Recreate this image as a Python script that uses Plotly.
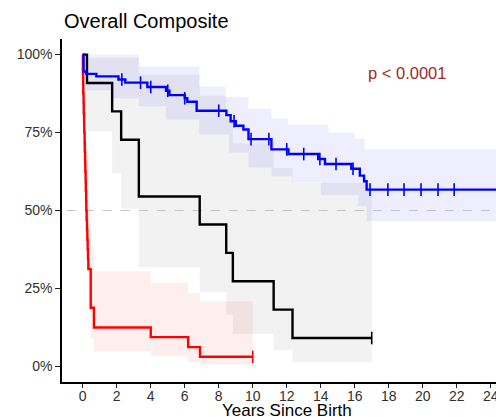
import plotly.graph_objects as go

# ---------------- data ----------------
# Blue group: Kaplan-Meier steps (years, survival %)
blue_t = [0, 0.05, 0.2, 0.8, 2.1, 2.5, 3.8, 4.9, 5.1, 6.0, 6.15, 6.7, 8.45, 8.7, 9.0,
          9.45, 9.75, 11.1, 12.1, 13.85, 14.25, 15.8, 16.3, 16.55, 16.7, 25]
blue_s = [100, 94.6, 93.8, 93.0, 92.0, 91.0, 89.6, 88.4, 87.0, 86.0, 84.9, 82.0, 80.6, 78.6, 77.2,
          76.0, 72.9, 69.6, 68.1, 66.5, 64.9, 63.4, 61.2, 59.4, 56.7, 56.7]
blue_censor_t = [2.3, 3.4, 4.0, 5.0, 6.0, 8.0, 8.9, 9.9, 10.95, 12.0, 13.0, 13.95, 14.9,
                 15.9, 16.9, 17.95, 18.9, 19.9, 20.9, 21.85]
blue_up_t = [0, 0.05, 0.3, 3.3, 6.85, 8.4, 9.75, 11.1, 12.1, 14.45, 16.0, 16.6, 25]
blue_up = [100, 100, 99.0, 96.2, 89.8, 86.4, 82.6, 79.5, 77.5, 75.0, 73.0, 69.6, 69.6]
blue_lo_t = [0, 0.05, 0.3, 1.75, 3.3, 4.9, 6.85, 8.6, 9.75, 11.1, 12.3, 14.0, 16.2, 16.7, 25]
blue_lo = [100, 88.5, 88.5, 86.0, 83.4, 79.2, 74.4, 68.6, 63.8, 61.0, 59.0, 55.0, 51.4, 46.6, 46.6]

# Black group
black_t = [0, 0.25, 1.73, 2.26, 3.3, 6.88, 8.44, 8.83, 11.23, 12.34, 17.0]
black_s = [100, 90.9, 81.8, 72.7, 54.5, 45.5, 36.4, 27.3, 18.2, 9.1, 9.1]
black_censor_t = [17.0]
black_up = [100, 100, 100, 100, 93.5, 86.8, 79.6, 71.5, 63.6, 58.9, 58.9]
black_lo = [100, 75.4, 62.0, 50.6, 31.8, 23.8, 16.6, 10.4, 5.2, 1.4, 1.4]

# Red group
red_t = [0, 0.01, 0.02, 0.03, 0.05, 0.06, 0.08, 0.09, 0.11, 0.12, 0.14, 0.15, 0.17, 0.18,
         0.20, 0.21, 0.23, 0.25, 0.27, 0.29, 0.31, 0.33, 0.47, 0.66, 4.0, 6.2, 6.9, 10.0]
red_s = [100, 93.8, 90.6, 87.5, 84.4, 81.2, 78.1, 75.0, 71.9, 68.8, 65.6, 62.5, 59.4, 56.2,
         53.1, 50.0, 46.9, 43.8, 40.6, 37.5, 34.4, 31.2, 18.8, 12.5, 9.4, 6.2, 3.1, 3.1]
red_censor_t = [10.0]
red_band_t = [0, 0.01, 0.1, 0.2, 0.33, 0.47, 0.66, 4.0, 6.2, 6.9, 10.0]
red_up = [100, 99, 88, 72, 52, 38.6, 30.5, 26.8, 23.4, 20.9, 20.9]
red_lo = [100, 83, 66, 47, 18.7, 9.1, 4.9, 3.3, 1.4, 0.6, 0.6]

x_ticks = list(range(0, 25, 2))
y_ticks = [0, 25, 50, 75, 100]
title_text = "Overall Composite"
x_title = "Years Since Birth"
p_text = "p < 0.0001"

# ---------------- helpers ----------------
def step_lookup(ts, ss, t):
    val = ss[0]
    for ti, si in zip(ts, ss):
        if ti <= t:
            val = si
    return val

FONT = "Liberation Sans, Arial, sans-serif"

fig = go.Figure()

def add_band(xl, yl, xu, yu, color):
    fig.add_trace(go.Scatter(x=xl, y=yl, mode="lines", line=dict(width=0, shape="hv"),
                             hoverinfo="skip", showlegend=False))
    fig.add_trace(go.Scatter(x=xu, y=yu, mode="lines", line=dict(width=0, shape="hv"),
                             fill="tonexty", fillcolor=color, hoverinfo="skip", showlegend=False))

add_band(black_t, black_lo, black_t, black_up, "rgba(0,0,0,0.05)")
add_band(blue_lo_t, blue_lo, blue_up_t, blue_up, "rgba(0,0,255,0.065)")
add_band(red_band_t, red_lo, red_band_t, red_up, "rgba(255,0,0,0.065)")

# 50% reference line
fig.add_trace(go.Scatter(x=[-2, 26], y=[50, 50], mode="lines",
                         line=dict(color="#c4c4c4", width=1.1, dash="dash"),
                         hoverinfo="skip", showlegend=False))

def add_curve(ts, ss, cts, color):
    fig.add_trace(go.Scatter(x=ts, y=ss, mode="lines", line=dict(color=color, width=2.4, shape="hv"),
                             showlegend=False))
    fig.add_trace(go.Scatter(x=cts, y=[step_lookup(ts, ss, c) for c in cts], mode="markers",
                             marker=dict(symbol="line-ns-open", size=9, color=color,
                                         line=dict(color=color, width=1.6)),
                             showlegend=False))

add_curve(black_t, black_s, black_censor_t, "#000000")
add_curve(red_t, red_s, red_censor_t, "#ff0000")
add_curve(blue_t, blue_s, blue_censor_t, "#0000ff")

fig.add_annotation(x=0, xref="paper", y=1.052, yref="paper", text=title_text, showarrow=False,
                   xanchor="left", yanchor="middle", font=dict(family=FONT, size=20, color="#000000"))
fig.add_annotation(x=12, xref="x", y=-0.084, yref="paper", text=x_title, showarrow=False,
                   xanchor="center", yanchor="middle", font=dict(family=FONT, size=17, color="#000000"))
fig.add_annotation(x=19.1, xref="x", y=94.0, yref="y", text=p_text, showarrow=False,
                   xanchor="center", yanchor="middle", font=dict(family=FONT, size=16.5, color="#9e2a2b"))

fig.update_layout(
    width=496, height=417,
    margin=dict(l=62, r=0, t=39, b=35, autoexpand=False),
    paper_bgcolor="white", plot_bgcolor="white",
    showlegend=False,
    font=dict(family=FONT),
)
fig.update_xaxes(range=[-1.22, 24.31], tickvals=x_ticks, ticktext=[str(v) for v in x_ticks],
                 showgrid=False, zeroline=False, showline=True, linecolor="#000000", linewidth=1.5,
                 ticks="outside", ticklen=4, tickwidth=1.2, tickcolor="#222222", automargin=False,
                 ticklabelstandoff=-4,
                 tickfont=dict(family=FONT, size=14, color="#303030"), ticklabeloverflow="allow")
fig.update_yaxes(range=[-5, 105], tickvals=y_ticks, ticktext=[f"{v}%" for v in y_ticks],
                 showgrid=False, zeroline=False, showline=True, linecolor="#000000", linewidth=1.5,
                 ticks="outside", ticklen=5, tickwidth=1.2, tickcolor="#222222", automargin=False,
                 tickfont=dict(family=FONT, size=14, color="#303030"))

fig.write_html("out.html", config={"displayModeBar": False},
               post_script="document.body.style.margin='0';document.body.style.overflow='hidden';")
